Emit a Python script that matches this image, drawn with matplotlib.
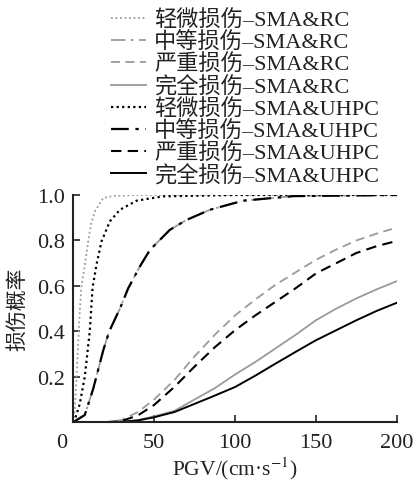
import matplotlib
matplotlib.use('Agg')
import matplotlib.pyplot as plt

plt.rcParams['font.family'] = ['Liberation Serif', 'Noto Sans CJK SC', 'DejaVu Sans']
plt.rcParams['axes.unicode_minus'] = False
plt.rcParams['mathtext.fontset'] = 'stix'

# PGV (cm/s) vs damage probability
x_slight_rc = [0, 1, 2, 3, 4, 5, 7.2, 9.3, 11, 13.4, 18.6, 25, 40, 200]
y_slight_rc = [0, 0.05, 0.18, 0.33, 0.47, 0.59, 0.69, 0.795, 0.87, 0.928, 0.987, 0.996, 1.0, 1.0]

x_slight_uh = [0, 1, 4.1, 7.2, 10.3, 12, 14.4, 17.5, 22.7, 28.9, 39.2, 55.6, 100, 200]
y_slight_uh = [0, 0.01, 0.08, 0.20, 0.40, 0.59, 0.692, 0.795, 0.884, 0.935, 0.975, 0.994, 1.0, 1.0]

# moderate RC curve lies under the UHPC one in the figure
x_mod_rc = [0, 7.2, 12.4, 18.6, 22.3, 28.9, 34, 41.2, 47.4, 59.8, 70, 84.5, 105, 136, 200]
y_mod_rc = [0, 0.032, 0.147, 0.316, 0.40, 0.50, 0.589, 0.685, 0.758, 0.847, 0.89, 0.935, 0.975, 0.995, 1.0]

x_mod_uh = [0, 7.2, 12.4, 18.6, 22.3, 28.9, 34, 41.2, 47.4, 59.8, 70, 84.5, 105, 136, 200]
y_mod_uh = [0, 0.032, 0.147, 0.316, 0.40, 0.50, 0.589, 0.685, 0.758, 0.847, 0.89, 0.935, 0.975, 0.995, 1.0]

x_big = [0, 20, 30, 40, 50, 62.5, 75, 87.5, 100, 112.5, 125, 137.5, 150, 162.5, 175, 187.5, 200]
y_sev_rc = [0, 0, 0.01, 0.045, 0.10, 0.185, 0.29, 0.385, 0.47, 0.54, 0.605, 0.66, 0.715, 0.76, 0.80, 0.83, 0.857]
y_sev_uh = [0, 0, 0.006, 0.03, 0.076, 0.155, 0.245, 0.33, 0.405, 0.47, 0.53, 0.59, 0.655, 0.70, 0.745, 0.775, 0.798]
y_com_rc = [0, 0, 0.002, 0.01, 0.026, 0.05, 0.10, 0.15, 0.21, 0.265, 0.325, 0.385, 0.449, 0.50, 0.545, 0.585, 0.621]

x_com_uh = [0, 20, 30, 40, 50, 62.5, 75, 85, 100, 112.5, 125, 137.5, 150, 162.5, 175, 187.5, 200]
y_com_uh = [0, 0, 0.002, 0.008, 0.022, 0.045, 0.081, 0.11, 0.155, 0.205, 0.258, 0.31, 0.361, 0.405, 0.449, 0.49, 0.526]

labels = ['轻微损伤–SMA&RC', '中等损伤–SMA&RC', '严重损伤–SMA&RC', '完全损伤–SMA&RC',
          '轻微损伤–SMA&UHPC', '中等损伤–SMA&UHPC', '严重损伤–SMA&UHPC', '完全损伤–SMA&UHPC']

gray = '#9a9a9a'
fig = plt.figure(figsize=(4.13, 4.81), dpi=100)
ax = fig.add_axes([0.177, 0.12, 0.784, 0.4725])

lines = []
lines += ax.plot(x_slight_rc, y_slight_rc, color=gray, ls=(0, (1, 1.5)), lw=1.3)
lines += ax.plot(x_mod_rc, y_mod_rc, color=gray, ls=(0, (8, 3, 1.5, 3)), lw=1.3)
lines += ax.plot(x_big, y_sev_rc, color=gray, ls=(0, (5, 3)), lw=1.3)
lines += ax.plot(x_big, y_com_rc, color=gray, ls='-', lw=1.3)
lines += ax.plot(x_slight_uh, y_slight_uh, color='black', ls=(0, (1, 1.5)), lw=1.6)
lines += ax.plot(x_mod_uh, y_mod_uh, color='black', ls=(0, (8, 3, 1.5, 3)), lw=1.6)
lines += ax.plot(x_big, y_sev_uh, color='black', ls=(0, (5, 3)), lw=1.5)
lines += ax.plot(x_com_uh, y_com_uh, color='black', ls='-', lw=1.4)

ax.set_xlim(0, 200)
ax.set_ylim(0, 1.0)
ax.set_xticks([0, 50, 100, 150, 200])
ax.set_xticklabels(['', '50', '100', '150', '200'])
ax.set_yticks([0, 0.2, 0.4, 0.6, 0.8, 1.0])
ax.set_yticklabels(['', '0.2', '0.4', '0.6', '0.8', '1.0'])
ax.tick_params(direction='in', length=5, width=1.2, labelsize=16, colors='#222222', pad=6)
ax.tick_params(axis='x', pad=8)
for s in ['top', 'right']:
    ax.spines[s].set_visible(False)
for s in ['left', 'bottom']:
    ax.spines[s].set_linewidth(1.5)
    ax.spines[s].set_color('#222222')

ax.text(-0.035, -0.087, '0', transform=ax.transAxes, ha='center', va='center',
        fontsize=16, color='#222222')
ax.set_xlabel('PGV/(cm·s$^{-1}$)', fontsize=15.5, color='#222222')
ax.xaxis.set_label_coords(0.5, -0.14)
ax.set_ylabel('损伤概率', fontsize=15, color='#222222', family=['Noto Sans CJK SC'])
ax.yaxis.set_label_coords(-0.14, 0.5)

fig.legend(lines, labels, loc='upper left', bbox_to_anchor=(0.268, 0.978),
           frameon=False, fontsize=16, handlelength=1.6, handletextpad=0.35,
           labelspacing=0.05, borderpad=0, borderaxespad=0, labelcolor='#222222')

fig.savefig('out.png', dpi=100)
